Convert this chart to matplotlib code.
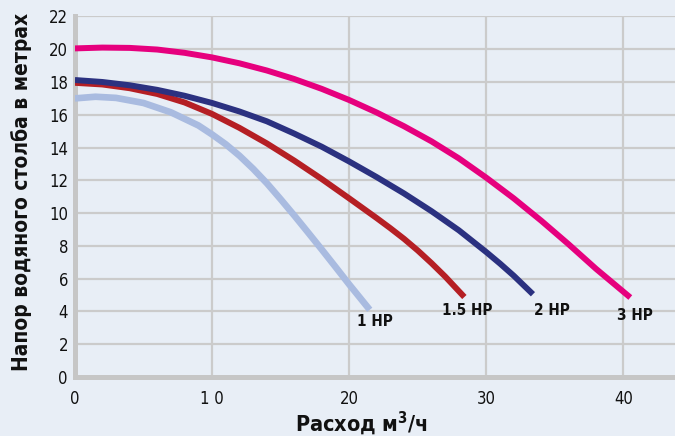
import matplotlib

matplotlib.use("Agg")
import matplotlib.pyplot as plt

# Pump head curves (flow m3/h, head m)
Q_1HP = [0, 1.5, 3, 5, 7, 9, 10, 11, 12, 13, 14, 15, 16, 17, 18, 19, 20, 21.5]
H_1HP = [17.0, 17.1, 17.03, 16.72, 16.15, 15.35, 14.8, 14.2, 13.5, 12.7, 11.82,
         10.85, 9.85, 8.82, 7.78, 6.72, 5.65, 4.1]

Q_15HP = [0, 2, 4, 6, 8, 10, 12, 14, 16, 18, 20, 22, 23, 24, 25, 26, 27, 28.4]
H_15HP = [17.95, 17.85, 17.62, 17.27, 16.75, 16.05, 15.2, 14.25, 13.2, 12.08,
          10.9, 9.7, 9.08, 8.43, 7.72, 6.95, 6.13, 4.88]

Q_2HP = [0, 2, 4, 6, 8, 10, 12, 14, 16, 18, 20, 22, 24, 26, 28, 30, 31, 32,
         33.4]
H_2HP = [18.12, 18.0, 17.8, 17.52, 17.16, 16.72, 16.2, 15.6, 14.85, 14.05,
         13.15, 12.2, 11.2, 10.12, 8.95, 7.62, 6.92, 6.18, 5.05]

Q_3HP = [0, 2, 4, 6, 8, 10, 12, 14, 16, 18, 20, 22, 24, 26, 28, 30, 32, 34,
         36, 38, 40.5]
H_3HP = [20.05, 20.1, 20.08, 19.98, 19.78, 19.5, 19.14, 18.7, 18.18, 17.58,
         16.9, 16.14, 15.3, 14.38, 13.34, 12.16, 10.9, 9.54, 8.1, 6.6, 4.85]

LABELS = ["1 HP", "1.5 HP", "2 HP", "3 HP"]
X_TICKS = [0, 10, 20, 30, 40]
X_TICKLABELS = ["0", "1 0", "20", "30", "40"]
Y_TICKS = list(range(0, 23, 2))

BG = "#e8eef6"
GRID = "#cbcbcb"
INK = "#111111"

plt.rcParams["font.family"] = ["DejaVu Sans"]
plt.rcParams["font.stretch"] = "condensed"

fig = plt.figure(figsize=(6.75, 4.36), dpi=100, facecolor=BG)
ax = fig.add_axes((0.111, 0.1353, 0.889, 0.827), facecolor=BG)

curves = [
    (Q_1HP, H_1HP, "#a9bbe0", 4.8),
    (Q_15HP, H_15HP, "#b51f24", 4.3),
    (Q_2HP, H_2HP, "#2b3180", 4.3),
    (Q_3HP, H_3HP, "#e6007e", 4.3),
]
for q, h, color, lw in curves:
    ax.plot(q, h, color=color, lw=lw, solid_capstyle="butt",
            solid_joinstyle="round", zorder=3)

# curve end labels
label_pos = [(20.6, 3.4), (26.8, 4.07), (33.5, 4.04), (39.5, 3.75)]
for text, (x, y) in zip(LABELS, label_pos):
    ax.text(x, y, text, ha="left", va="center", fontsize=11,
            fontweight="bold", color=INK, zorder=4)

ax.set_xlim(0, 43.76)
ax.set_ylim(0, 22)
ax.set_xticks(X_TICKS)
ax.set_xticklabels(X_TICKLABELS)
ax.set_yticks(Y_TICKS)
ax.tick_params(length=0, labelsize=12, colors=INK)
ax.tick_params(axis="x", pad=9)
ax.tick_params(axis="y", pad=5)

ax.grid(True, color=GRID, lw=1.6, zorder=0)
ax.set_axisbelow(True)
for side in ("top", "right"):
    ax.spines[side].set_visible(False)
for side in ("left", "bottom"):
    ax.spines[side].set_color("#c6c6c6")
    ax.spines[side].set_linewidth(3.6)

ax.set_ylabel("Напор водяного столба в метрах", fontsize=15,
              fontweight="bold", color=INK)
ax.yaxis.set_label_coords(-0.072, 0.513)
ax.set_xlabel(r"Расход м$^{\mathbf{3}}$/ч", fontsize=15.5,
              fontweight="bold", color=INK)
ax.xaxis.set_label_coords(0.478, -0.088)

fig.savefig("out.png", dpi=100, facecolor=BG)
